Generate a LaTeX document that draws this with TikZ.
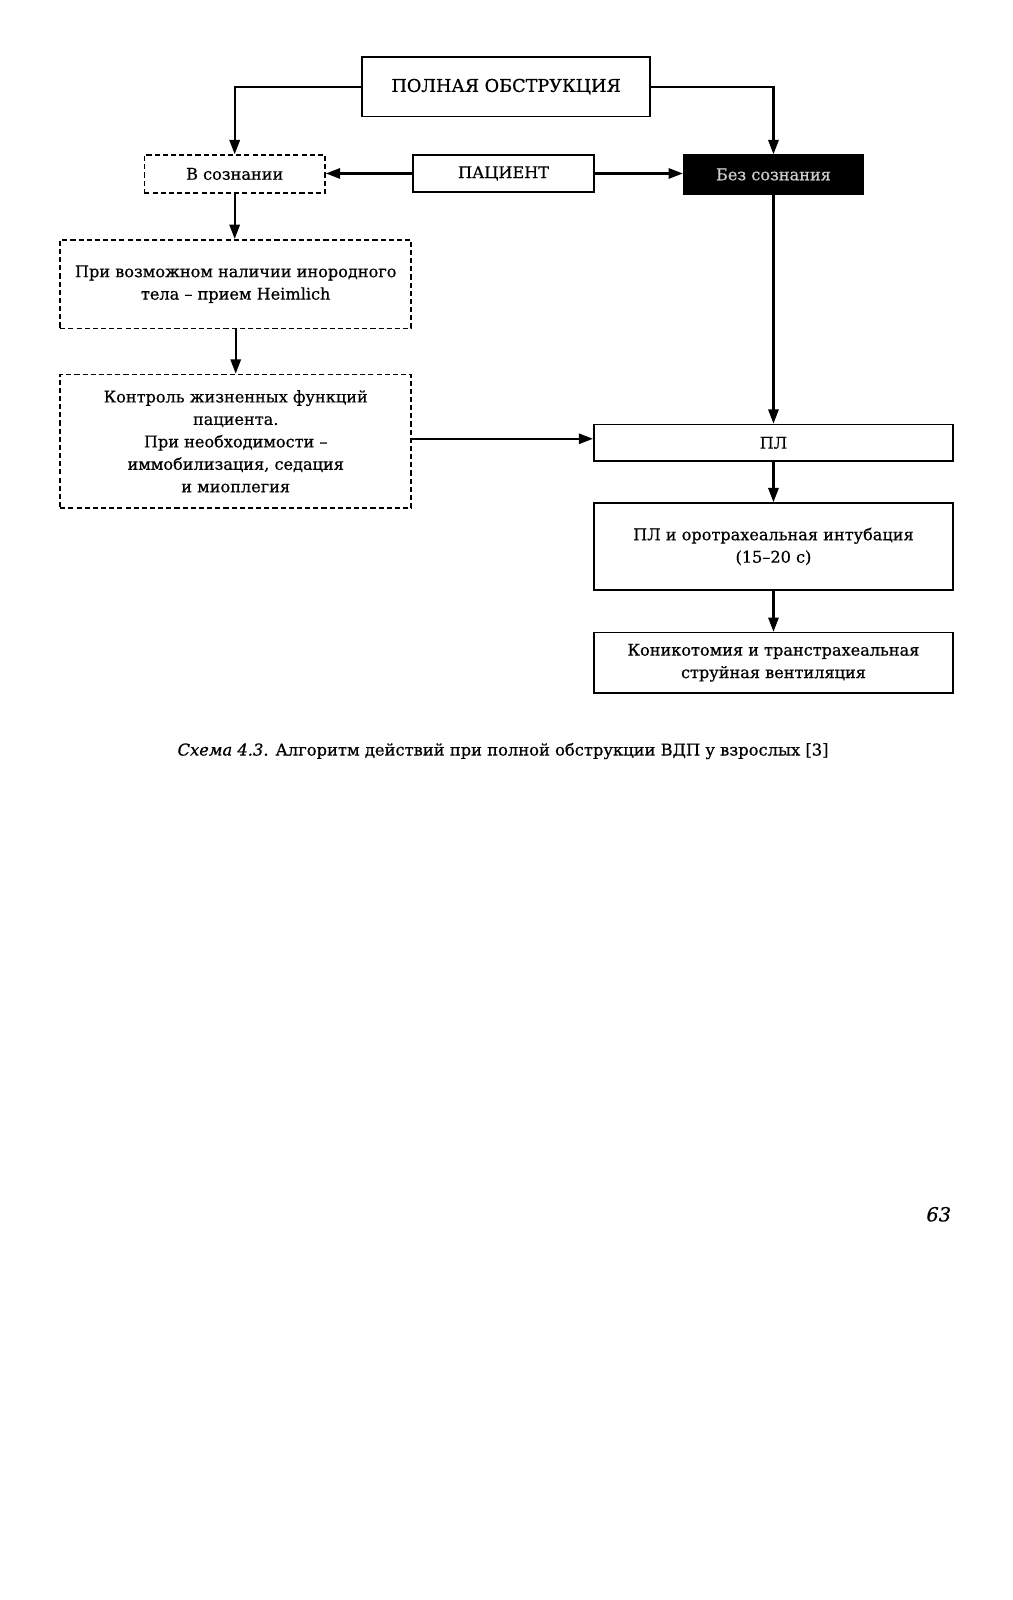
\documentclass[tikz,border=0pt]{standalone}
\usepackage{fontspec}
\setmainfont{DejaVu Serif}[FakeBold=0.6]
\usetikzlibrary{arrows.meta}
\begin{document}
\begin{tikzpicture}[x=1pt,y=-1pt,
  box/.style={draw, line width=1.6pt, inner sep=0pt, align=center, font=\fontsize{15.8}{22}\selectfont},
  dbox/.style={box, dash pattern=on 5pt off 3pt},
  arr/.style={line width=2.3pt, -{Triangle[length=14pt,width=10pt]}}]
\useasboundingbox[fill=white] (0,0) rectangle (992,1568);
\node[box, minimum width=282, minimum height=58, font=\fontsize{17.3}{22}\selectfont] (top) at (496,85) {ПОЛНАЯ ОБСТРУКЦИЯ};
\node[dbox, minimum width=177, minimum height=37] (vs) at (230,170.5) {В сознании};
\node[box, minimum width=177, minimum height=36] (pat) at (493.5,170) {ПАЦИЕНТ};
\node[box, fill=black, text=white!80!black, minimum width=176, minimum height=38] (bez) at (758,171) {Без сознания};
\node[dbox, minimum width=344, minimum height=87] (heim) at (231,278.5) {При возможном наличии инородного\\тела – прием Heimlich};
\node[dbox, minimum width=344, minimum height=131] (ctrl) at (231,432.5) {Контроль жизненных функций\\пациента.\\При необходимости –\\иммобилизация, седация\\и миоплегия};
\node[box, minimum width=352, minimum height=36] (pl) at (758,434) {ПЛ};
\node[box, minimum width=352, minimum height=85] (pli) at (758,535.5) {ПЛ и оротрахеальная интубация\\(15–20 с)};
\node[box, minimum width=352, minimum height=59] (kon) at (758,649.5) {Коникотомия и транстрахеальная\\струйная вентиляция};
\draw[arr] (top.west) -| (vs.north);
\draw[arr] (top.east) -| (bez.north);
\draw[arr] (pat.west) -- (pat.west -| vs.east);
\draw[arr] (pat.east) -- (pat.east -| bez.west);
\draw[arr] (vs.south) -- (vs.south |- heim.north);
\draw[arr] (heim.south) -- (heim.south |- ctrl.north);
\draw[arr] (ctrl.east |- 0,430) -- (pl.west |- 0,430);
\draw[arr] (bez.south) -- (pl.north);
\draw[arr] (pl.south) -- (pli.north);
\draw[arr] (pli.south) -- (kon.north);
\node[font=\fontsize{16}{18}\selectfont] (cap) at (493,736) {{\itshape Схема 4.3.} Алгоритм действий при полной обструкции ВДП у взрослых [3]};
\node[font=\fontsize{19}{22}\selectfont\itshape] (pg) at (920,1190) {63};
\end{tikzpicture}
\end{document}
